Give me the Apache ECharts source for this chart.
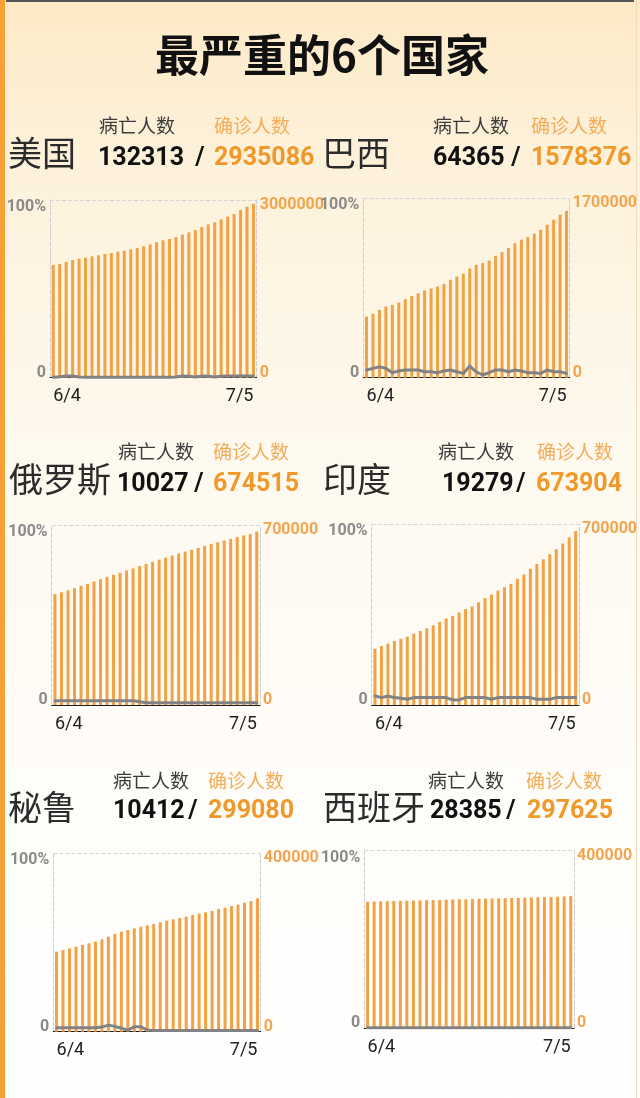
<!DOCTYPE html>
<html>
<head>
<meta charset="utf-8">
<script src="https://cdn.jsdelivr.net/npm/echarts@6/dist/echarts.min.js"></script>
<style>
html,body{margin:0;padding:0;width:640px;height:1098px;overflow:hidden;}
body{background:linear-gradient(180deg,#fdeac6 0%,#fdf1da 14%,#fef9ee 40%,#fffdf9 70%,#ffffff 100%);position:relative;}
#leftbar{position:absolute;left:0;top:0;width:5px;height:1098px;background:#f7a035;}
#topline{position:absolute;left:6px;top:0;width:628px;height:2px;background:#555;}
#rightline{position:absolute;right:3px;top:0;width:1px;height:1098px;background:#f1dcc0;}
#c{position:absolute;left:0;top:0;width:640px;height:1098px;}
</style>
</head>
<body>
<div id="leftbar"></div><div id="topline"></div><div id="rightline"></div>
<div id="c"></div>
<script>
// ---------- DATA ----------
const dates = ['6/4','6/5','6/6','6/7','6/8','6/9','6/10','6/11','6/12','6/13','6/14','6/15','6/16','6/17','6/18','6/19','6/20','6/21','6/22','6/23','6/24','6/25','6/26','6/27','6/28','6/29','6/30','7/1','7/2','7/3','7/4','7/5'];

const countries = ['美国','巴西','俄罗斯','印度','秘鲁','西班牙'];
const totalDeaths = [132313, 64365, 10027, 19279, 10412, 28385];
const totalConfirmed = [2935086, 1578376, 674515, 673904, 299080, 297625];
const rightAxisMax = [3000000, 1700000, 700000, 700000, 400000, 400000];
const mainTitle = '最严重的6个国家';
const deathLabel = '病亡人数';
const confirmedLabel = '确诊人数';

const usConfirmed = [1902000,1919000,1953000,1987000,2009000,2026000,2049000,2066000,2088000,2105000,2128000,2144000,2167000,2189000,2218000,2251000,2285000,2319000,2341000,2375000,2415000,2454000,2493000,2544000,2589000,2623000,2674000,2719000,2764000,2831000,2887000,2935086];
const brConfirmed = [578000,604000,641000,673000,689000,711000,743000,774000,799000,825000,844000,863000,888000,926000,957000,983000,1033000,1068000,1084000,1109000,1153000,1188000,1226000,1273000,1305000,1330000,1362000,1400000,1447000,1495000,1542000,1578376];
const ruConfirmed = [431800,438300,446200,454000,463200,471000,480200,489300,498500,506400,514200,523400,531200,540400,548200,556100,565200,573100,580900,588800,596600,603200,611000,618900,626700,633300,639800,646400,652900,659400,664700,674515];
const inConfirmed = [217700,228100,237200,247700,256800,264600,276300,286800,297200,308900,322000,335000,345400,358500,371500,381900,397600,414500,427500,443200,456200,469300,488800,505800,527900,546200,564400,584000,603500,625700,649100,673904];
const peConfirmed = [179400,183200,186900,190700,194400,198100,201900,207100,213100,219100,224300,228000,231800,235500,238500,241500,245200,249000,252000,255000,258000,261700,264700,267700,270700,275200,278100,281900,284900,289400,293100,299080];
const esConfirmed = [285000,285500,286000,286400,286700,287000,287400,287700,288100,288500,289000,289400,289800,290200,290500,290900,291300,291700,292100,292500,292800,293200,293600,293900,294300,294700,295200,295600,296000,296400,296900,297625];

const usRate = [0.3,0.5,1.0,0.9,0.4,0.3,0.3,0.3,0.3,0.3,0.3,0.3,0.3,0.3,0.3,0.3,0.3,0.3,0.3,0.4,0.9,0.8,0.4,0.9,0.8,0.4,0.8,0.9,0.9,0.9,0.9,0.9];
const brRate = [4.3,5.2,6.1,5.2,2.8,3.7,4.3,4.3,4.3,3.3,3.3,2.8,3.7,4.3,3.3,2.4,6.5,3.3,1.5,2.8,4.3,4.3,3.3,4.3,3.7,2.8,2.8,2.4,4.3,3.3,3.3,2.4];
const ruRate = [2.4,2.4,2.4,2.4,2.4,2.4,2.4,2.4,2.4,2.4,2.4,2.4,2.4,1.8,1.3,1.3,1.3,1.3,1.3,1.3,1.3,1.3,1.3,1.3,1.3,1.3,1.3,1.3,1.3,1.3,1.3,1.3];
const inRate = [5.0,4.1,5.0,4.1,3.7,3.2,4.1,4.1,4.1,4.1,4.1,4.1,2.8,2.8,4.1,4.1,4.1,4.1,3.2,4.1,4.1,4.1,4.1,4.1,4.1,3.2,3.2,3.2,4.1,4.1,4.1,4.1];
const peRate = [2.2,2.2,2.2,2.2,2.2,2.2,2.2,2.6,3.7,3.0,1.9,0.9,2.8,2.8,0.9,0.7,0.7,0.7,0.7,0.7,0.7,0.7,0.7,0.7,0.7,0.7,0.7,0.7,0.7,0.7,0.7,0.7];
const esRate = [0.3,0.3,0.3,0.3,0.3,0.3,0.3,0.3,0.3,0.3,0.3,0.3,0.3,0.3,0.3,0.3,0.3,0.3,0.3,0.3,0.3,0.3,0.3,0.3,0.3,0.3,0.3,0.3,0.3,0.3,0.3,0.3];

const confirmedSeries = [usConfirmed, brConfirmed, ruConfirmed, inConfirmed, peConfirmed, esConfirmed];
const rateSeries = [usRate, brRate, ruRate, inRate, peRate, esRate];

// ---------- LAYOUT / STYLE ----------
const ORANGE = '#f2a145';
const ORANGE_TXT = '#f0992a';
const ORANGE_LBL = '#f3ac5a';
const GRAY = '#828282';
const CJK = '"Noto Sans CJK SC", "Noto Sans", sans-serif';
const NUM = 'Roboto, "Noto Sans", sans-serif';

const grids = [
  {left: 50,    top: 200,   width: 206.7, height: 177.7},
  {left: 363.3, top: 198,   width: 207.4, height: 179.7},
  {left: 51.7,  top: 525,   width: 208.3, height: 180},
  {left: 371.7, top: 524.3, width: 208.3, height: 180.7},
  {left: 53.3,  top: 853.3, width: 207.4, height: 178.4},
  {left: 364.3, top: 850.7, width: 209.7, height: 177.6}
];
// header text layout per panel
const headers = [
  {name:[8,153],   lblY:126, dL:99,  cL:214, numY:159, dN:98,  sl:200, cN:214},
  {name:[322,153], lblY:126, dL:433, cL:531, numY:159, dN:433, sl:516, cN:531},
  {name:[9,479],   lblY:452, dL:118, cL:213, numY:485, dN:117, sl:199, cN:213},
  {name:[323,479], lblY:452, dL:438, cL:537, numY:485, dN:442, sl:521, cN:536},
  {name:[8,807],   lblY:781, dL:113, cL:208, numY:812, dN:113, sl:193, cN:208},
  {name:[323,807], lblY:781, dL:428, cL:526, numY:812, dN:430, sl:511, cN:527}
];

function txt(x, y, text, font, fill, align) {
  align = align || 'left';
  return {type:'text', x:x, y:y, silent:true, z:10,
    style:{text:text, font:font, fill:fill, textAlign:align, textVerticalAlign:'middle', align:align, verticalAlign:'middle'}};
}

const graphics = [txt(322, 55, mainTitle, 'bold 44px ' + CJK, '#111111', 'center')];
headers.forEach(function(h, i){
  graphics.push(txt(h.name[0], h.name[1], countries[i], 'normal 34px ' + CJK, '#2b2b2b'));
  graphics.push(txt(h.dL, h.lblY, deathLabel, 'normal 19px ' + CJK, '#3c3c3c'));
  graphics.push(txt(h.cL, h.lblY, confirmedLabel, 'normal 19px ' + CJK, ORANGE_LBL));
  graphics.push(txt(h.dN, h.numY, String(totalDeaths[i]), 'bold 25px ' + NUM, '#111111'));
  graphics.push(txt(h.sl, h.numY, '/', 'bold 25px ' + NUM, '#111111', 'center'));
  graphics.push(txt(h.cN, h.numY, String(totalConfirmed[i]), 'bold 25px ' + NUM, ORANGE_TXT));
});

const xAxes = [], yAxes = [], series = [], gridOpts = [];
grids.forEach(function(g, i){
  gridOpts.push({left:g.left, top:g.top, width:g.width, height:g.height, containLabel:false});
  xAxes.push({
    gridIndex:i, type:'category', data:dates, boundaryGap:true,
    axisLine:{show:true, lineStyle:{color:'#1e1e1e', width:1}},
    axisTick:{show:false},
    splitLine:{show:false},
    axisLabel:{
      interval:function(idx){ return idx === 0 || idx === dates.length - 1; },
      hideOverlap:false, margin:10, fontSize:18, color:'#222222', fontFamily:NUM,
      alignMinLabel:'left', alignMaxLabel:'right'
    }
  });
  yAxes.push({
    gridIndex:i, type:'value', position:'left', min:0, max:100, interval:100,
    axisLine:{show:true, lineStyle:{color:'#cfcfcf', type:'dashed', width:1}},
    axisTick:{show:false},
    splitLine:{show:true, lineStyle:{color:'#d6d6d6', type:'dashed', width:1}},
    axisLabel:{
      margin:4, hideOverlap:false,
      formatter:function(v){ return v === 100 ? '{t|100%}' : '{b|0}'; },
      rich:{
        t:{fontSize:16, fontWeight:'bold', color:'#8a8a8a', fontFamily:NUM, padding:[14,0,0,0]},
        b:{fontSize:16, fontWeight:'bold', color:'#8a8a8a', fontFamily:NUM, padding:[0,0,10,0]}
      }
    }
  });
  yAxes.push({
    gridIndex:i, type:'value', position:'right', min:0, max:rightAxisMax[i], interval:rightAxisMax[i],
    axisLine:{show:true, lineStyle:{color:'#cfcfcf', type:'dashed', width:1}},
    axisTick:{show:false},
    splitLine:{show:false},
    axisLabel:{
      margin:3, hideOverlap:false,
      formatter:function(v){ return v === 0 ? '{b|0}' : '{t|' + v + '}'; },
      rich:{
        t:{fontSize:16, fontWeight:'bold', color:'#f2a54e', fontFamily:NUM, padding:[10,0,0,0]},
        b:{fontSize:16, fontWeight:'bold', color:'#f2a54e', fontFamily:NUM, padding:[0,0,10,0]}
      }
    }
  });
  series.push({
    type:'bar', xAxisIndex:i, yAxisIndex:2*i+1, data:confirmedSeries[i],
    barWidth:3, itemStyle:{color:ORANGE}, silent:true, z:2
  });
  series.push({
    type:'line', xAxisIndex:i, yAxisIndex:2*i, data:rateSeries[i],
    showSymbol:false, symbol:'none', smooth:false,
    lineStyle:{color:GRAY, width:3, join:'round', cap:'round'}, silent:true, z:3
  });
});

const chart = echarts.init(document.getElementById('c'), null, {renderer:'canvas'});
chart.setOption({
  backgroundColor:'transparent',
  animation:false,
  grid:gridOpts,
  xAxis:xAxes,
  yAxis:yAxes,
  series:series,
  graphic:{elements:graphics}
});
</script>
</body>
</html>
